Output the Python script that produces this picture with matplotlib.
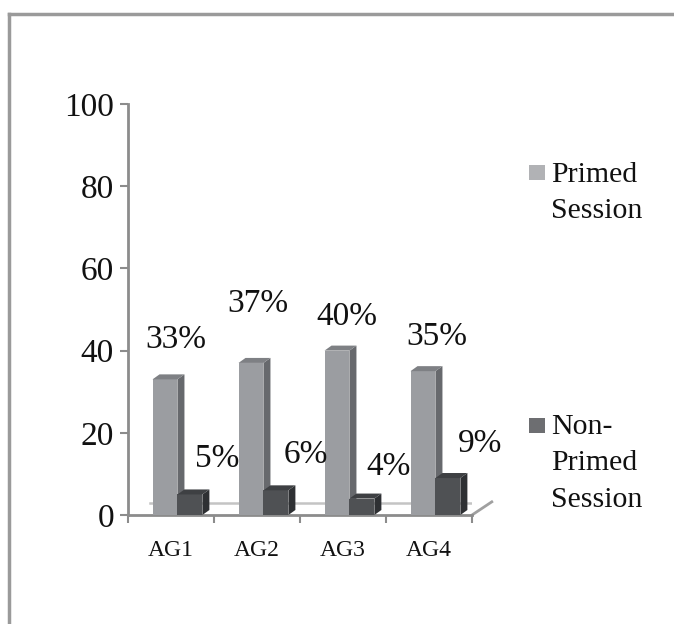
import matplotlib
matplotlib.use("Agg")
import matplotlib.pyplot as plt
from matplotlib.patches import Polygon, Rectangle
from matplotlib.lines import Line2D

plt.rcParams['font.family'] = ['Liberation Serif', 'DejaVu Serif']

groups = ['AG1', 'AG2', 'AG3', 'AG4']
primed = [33, 37, 40, 35]
non_primed = [5, 6, 4, 9]
series_names = ['Primed\nSession', 'Non-\nPrimed\nSession']

# label nudges (data units) so the texts sit where they do in the sheet
prim_lab_dx = [0.13, 0.08, 0.12, 0.16]
prim_lab_dy = [9.6, 14.3, 8.2, 8.3]
non_lab_dx = [0.32, 0.35, 0.31, 0.37]
non_lab_dy = [8.6, 8.6, 7.7, 8.3]

W, H = 674, 624
fig = plt.figure(figsize=(W / 100, H / 100), dpi=100)
ax = fig.add_axes([128 / W, 109 / H, 344 / W, 411 / H])
ax.set_xlim(0, 4)
ax.set_ylim(0, 100)
ax.patch.set_alpha(0)

TXT = '#111111'

# pseudo 3d depth, in data units
ddx = 7 / 86
ddy = 5 / 4.11
bw = 0.29


def bar3d(x0, h, front, side, top):
    ax.add_patch(Polygon([(x0, 0), (x0 + bw, 0), (x0 + bw, h), (x0, h)],
                         closed=True, fc=front, ec='none', zorder=3))
    ax.add_patch(Polygon([(x0 + bw, 0), (x0 + bw + ddx, ddy), (x0 + bw + ddx, h + ddy),
                          (x0 + bw, h)], closed=True, fc=side, ec='none', zorder=3))
    ax.add_patch(Polygon([(x0, h), (x0 + bw, h), (x0 + bw + ddx, h + ddy),
                          (x0 + ddx, h + ddy)], closed=True, fc=top, ec='none', zorder=3))


# floor outline
ax.add_line(Line2D([0.25, 4.23], [2.9, 2.9], color='#c4c4c4', lw=1.8, zorder=1))
ax.add_line(Line2D([4.0, 4.23], [0, 3.2], color='#a0a0a0', lw=2, zorder=1,
                   clip_on=False))

for i in range(len(groups)):
    xp = i + 0.285
    xn = xp + bw
    bar3d(xp, primed[i], '#9b9da1', '#67696d', '#7e8084')
    bar3d(xn, non_primed[i], '#4f5154', '#2e3033', '#3e4043')
    ax.text(xp + bw / 2 + prim_lab_dx[i], primed[i] + prim_lab_dy[i], f'{primed[i]}%',
            ha='center', va='center', fontsize=24, color=TXT, zorder=4)
    ax.text(xn + bw / 2 + non_lab_dx[i], non_primed[i] + non_lab_dy[i],
            f'{non_primed[i]}%', ha='center', va='center', fontsize=24,
            color=TXT, zorder=4)

for s in ['top', 'right']:
    ax.spines[s].set_visible(False)
for s in ['left', 'bottom']:
    ax.spines[s].set_color('#8c8c8c')
    ax.spines[s].set_linewidth(2)

ax.set_yticks(range(0, 101, 20))
ax.tick_params(axis='y', direction='out', length=6, width=1.5, color='#8c8c8c',
               labelsize=24, pad=4, labelcolor=TXT)
ax.set_xticks(range(0, 5))
ax.set_xticklabels([])
ax.set_xticks([i + 0.5 for i in range(4)], minor=True)
ax.set_xticklabels(groups, minor=True)
ax.tick_params(axis='x', which='major', direction='out', length=6, width=1.5,
               color='#8c8c8c')
ax.tick_params(axis='x', which='minor', length=0, labelsize=17, pad=18,
               labelcolor=TXT)

# legend drawn by hand
fig.patches.append(Rectangle((529 / W, 1 - 180 / H), 16 / W, 15 / H,
                             transform=fig.transFigure, fc='#b1b2b5', ec='none'))
fig.text(551 / W, 1 - 162 / H, series_names[0], ha='left', va='top', fontsize=21.5,
         color=TXT, linespacing=1.52)
fig.patches.append(Rectangle((529 / W, 1 - 433 / H), 16 / W, 15 / H,
                             transform=fig.transFigure, fc='#6d6e71', ec='none'))
fig.text(551 / W, 1 - 414 / H, series_names[1], ha='left', va='top', fontsize=21.5,
         color=TXT, linespacing=1.52)

# outer chart border (cut at right and bottom)
fig.add_artist(Line2D([9 / W, 1], [1 - 14 / H, 1 - 14 / H], transform=fig.transFigure,
                      color='#9a9a9a', lw=2.5))
fig.add_artist(Line2D([9 / W, 9 / W], [0, 1 - 14 / H], transform=fig.transFigure,
                      color='#9a9a9a', lw=2.5))

fig.savefig('out.png', dpi=100)
